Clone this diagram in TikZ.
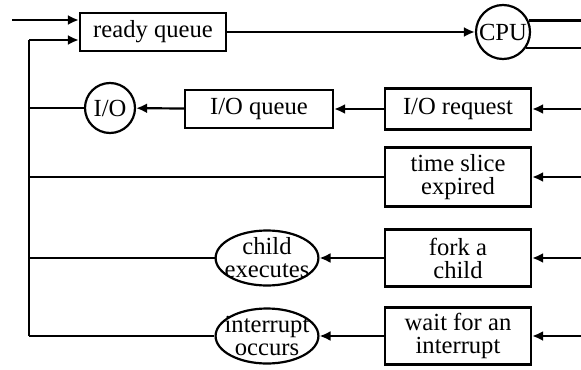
\documentclass[tikz,border=0pt]{standalone}
\usepackage{fontspec}
\setmainfont{Liberation Serif}
\usetikzlibrary{arrows.meta,shapes.geometric}
\begin{document}
\begin{tikzpicture}[x=0.5pt,y=-0.5pt,
  every node/.style={font=\fontsize{12.3}{11.5}\selectfont, inner sep=0pt, line width=1.1pt},
  box/.style={draw, rectangle, minimum width=73pt, align=center},
  circ/.style={draw, circle},
  oval/.style={draw, ellipse, minimum width=50.5pt, minimum height=27.5pt, inner xsep=-3pt, inner ysep=-3.5pt, align=center, font=\fontsize{12.3}{11.5}\selectfont},
  flow/.style={line width=1.1pt},
  arr/.style={flow, -{Latex[length=5.5pt,width=5pt]}}]
\useasboundingbox (0,0) rectangle (581,369);
\node[box, minimum height=19pt] (rq) at (153,32) {ready queue};
\node[circ, minimum size=27pt] (cpu) at (503,32) {CPU};
\node[circ, minimum size=25pt] (io) at (110,108) {I/O};
\node[box, minimum width=74pt, minimum height=19pt] (ioq) at (259,109) {I/O queue};
\node[box, minimum height=20.5pt] (ior) at (458,109) {I/O request};
\node[box, minimum height=29.5pt] (ts) at (458,177) {time slice\\expired};
\node[box, minimum height=28.5pt] (fork) at (458,258) {fork a\\child};
\node[box, minimum height=28.5pt] (wait) at (458,336) {wait for an\\interrupt};
\node[oval] (ce) at (267,258) {child\\executes};
\node[oval] (io2) at (267,336) {interrupt\\occurs};
\coordinate (top) at (29,40);
\coordinate (in) at (12,20);
\coordinate (R) at (581,0);
\draw[flow] (io2.west -| top) -- (top);
\draw[arr] (top) -- (top -| rq.west);
\draw[arr] (in) -- (in -| rq.west);
\draw[arr] (rq) -- (cpu);
\draw[flow] (cpu.24) -- (cpu.24 -| R);
\draw[flow] (cpu.-34) -- (cpu.-34 -| R);
\draw[flow] (io.west) -- (io.west -| top);
\draw[arr] (ioq) -- (io);
\draw[arr] (ior) -- (ioq);
\draw[flow] (ts.west) -- (ts.west -| top);
\draw[flow] (ce.west) -- (ce.west -| top);
\draw[flow] (io2.west) -- (io2.west -| top);
\draw[arr] (fork) -- (ce);
\draw[arr] (wait) -- (io2);
\draw[arr] (ior.east -| R) -- (ior.east);
\draw[arr] (ts.east -| R) -- (ts.east);
\draw[arr] (fork.east -| R) -- (fork.east);
\draw[arr] (wait.east -| R) -- (wait.east);
\end{tikzpicture}
\end{document}
